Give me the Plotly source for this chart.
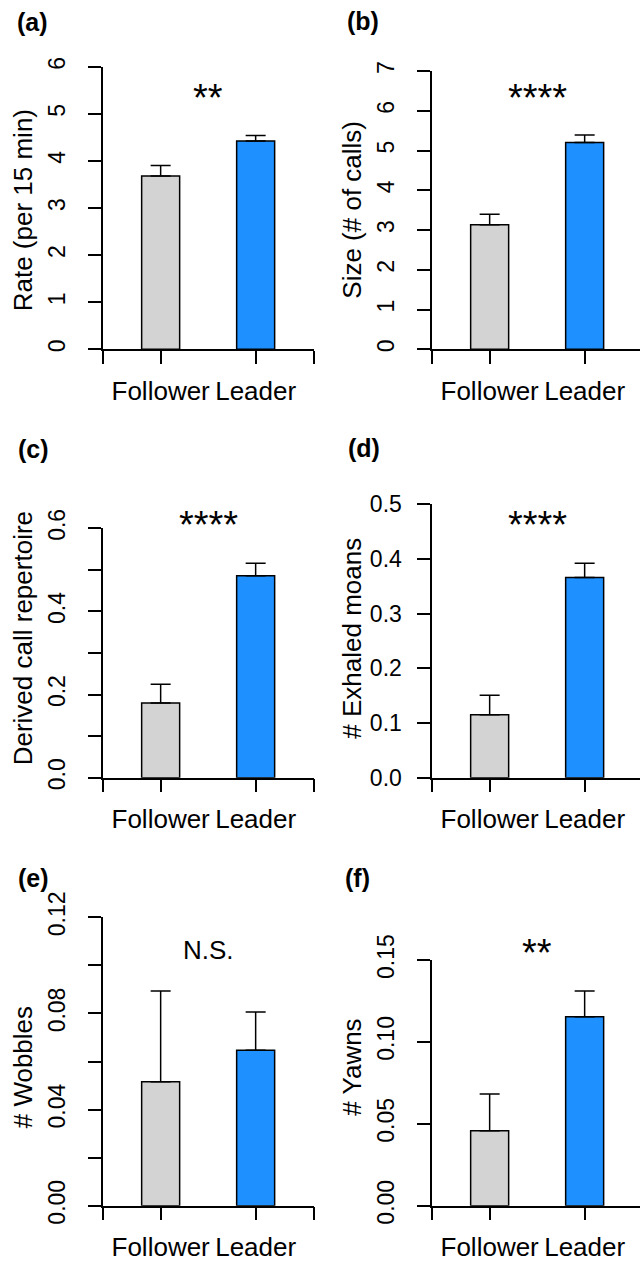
import plotly.graph_objects as go

W, H = 640, 1262

categories = ["Follower", "Leader"]
panel_labels = ["(a)", "(b)", "(c)", "(d)", "(e)", "(f)"]
y_titles = ["Rate (per 15 min)", "Size (# of calls)", "Derived call repertoire",
            "# Exhaled moans", "# Wobbles", "# Yawns"]
signif = ["**", "****", "****", "****", "N.S.", "**"]

rate_mean = [3.68, 4.42]
rate_se = [0.22, 0.12]
size_mean = [3.13, 5.20]
size_se = [0.27, 0.19]
derived_mean = [0.180, 0.486]
derived_se = [0.045, 0.030]
moans_mean = [0.115, 0.366]
moans_se = [0.036, 0.026]
wobbles_mean = [0.0516, 0.0647]
wobbles_se = [0.0377, 0.0159]
yawns_mean = [0.0458, 0.1154]
yawns_se = [0.0224, 0.0156]

# y axis ticks and labels per panel
y_ticks = [
    [0, 1, 2, 3, 4, 5, 6],
    [0, 1, 2, 3, 4, 5, 6, 7],
    [0, 0.1, 0.2, 0.3, 0.4, 0.5, 0.6],
    [0, 0.1, 0.2, 0.3, 0.4, 0.5],
    [0, 0.02, 0.04, 0.06, 0.08, 0.10, 0.12],
    [0, 0.05, 0.10, 0.15],
]
y_ticktext = [
    ["0", "1", "2", "3", "4", "5", "6"],
    ["0", "1", "2", "3", "4", "5", "6", "7"],
    ["0.0", "", "0.2", "", "0.4", "", "0.6"],
    ["0.0", "0.1", "0.2", "0.3", "0.4", "0.5"],
    ["0.00", "", "0.04", "", "0.08", "", "0.12"],
    ["0.00", "0.05", "0.10", "0.15"],
]
y_max = [6, 7, 0.6, 0.5, 0.12, 0.15]
rotated = [True, True, True, False, True, True]

means = [rate_mean, size_mean, derived_mean, moans_mean, wobbles_mean, yawns_mean]
ses = [rate_se, size_se, derived_se, moans_se, wobbles_se, yawns_se]

colors = ["#d3d3d3", "#1e90ff"]
x_pos = [1, 2]

# layout geometry (pixels)
axis_left = [102.7, 431.7, 102.7, 431.7, 102.7, 431.7]
y_bottom = [349.3, 349.3, 777.7, 777.7, 1205.7, 1205.7]
y_top = [66.7, 71.0, 528.3, 504.3, 917.3, 960.0]
px_per_unit = 95.0
xmin = 0.39
xmax_full = 2.61
label_pos = [(15, 21.7), (345, 21.0), (16, 449.3), (346, 448.3), (16, 878.3), (343, 878.3)]
title_pos = [(23.3, 210), (351.7, 210), (23.3, 638), (351.7, 638), (23.3, 1067), (351.7, 1067)]
sig_y = [93, 93, 520, 520, 950, 948.3]

FONT = "Liberation Sans, Arial, Helvetica, sans-serif"

fig = go.Figure()
annotations = []
layout = dict(
    width=W, height=H,
    margin=dict(l=0, r=0, t=0, b=0),
    paper_bgcolor="white", plot_bgcolor="white",
    showlegend=False,
    font=dict(family=FONT, color="black"),
)

for i in range(6):
    n = i + 1
    xa = "x" if n == 1 else f"x{n}"
    ya = "y" if n == 1 else f"y{n}"
    fig.add_trace(go.Bar(
        x=x_pos, y=means[i], width=0.4, xaxis=xa, yaxis=ya,
        marker=dict(color=colors, line=dict(color="black", width=1.5)),
        error_y=dict(type="data", symmetric=False, array=ses[i], arrayminus=[0, 0],
                     color="black", thickness=1.5, width=10),
        hoverinfo="skip",
    ))
    x0 = axis_left[i]
    x1 = min(x0 + (xmax_full - xmin) * px_per_unit, W)
    xmax = xmin + (x1 - x0) / px_per_unit
    xdom = [x0 / W, x1 / W]
    ydom = [(H - y_bottom[i]) / H, (H - y_top[i]) / H]
    xkey = "xaxis" if n == 1 else f"xaxis{n}"
    ykey = "yaxis" if n == 1 else f"yaxis{n}"
    layout[xkey] = dict(
        domain=xdom, range=[xmin, xmax], anchor=ya,
        showline=True, linecolor="black", linewidth=1.5,
        showgrid=False, zeroline=False,
        tickmode="array", tickvals=[xmin, 1, 2, xmax_full],
        ticktext=["", categories[0], categories[1], ""],
        ticks="outside", ticklen=12.5, tickwidth=1.5, tickcolor="black",
        tickfont=dict(size=26, family=FONT, color="black"),
        ticklabelstandoff=5, automargin=False, fixedrange=True,
    )
    layout[ykey] = dict(
        domain=ydom, range=[0, y_max[i]], anchor=xa,
        showline=True, linecolor="black", linewidth=1.5,
        showgrid=False, zeroline=False,
        tickmode="array", tickvals=y_ticks[i], ticktext=y_ticktext[i],
        ticks="outside", ticklen=12.5, tickwidth=1.5, tickcolor="black",
        tickfont=dict(size=23, family=FONT, color="black"),
        tickangle=-90 if rotated[i] else 0,
        ticklabelstandoff=14 if rotated[i] else 11,
        automargin=False, fixedrange=True,
    )
    lx, ly = label_pos[i]
    annotations.append(dict(
        text=f"<b>{panel_labels[i]}</b>", xref="paper", yref="paper",
        x=lx / W, y=(H - ly) / H, xanchor="left", yanchor="middle",
        showarrow=False, font=dict(size=25, family=FONT, color="black"),
    ))
    tx, ty = title_pos[i]
    annotations.append(dict(
        text=y_titles[i], xref="paper", yref="paper",
        x=tx / W, y=(H - ty) / H, xanchor="center", yanchor="middle",
        textangle=-90, showarrow=False, font=dict(size=26, family=FONT, color="black"),
    ))
    is_star = signif[i] != "N.S."
    sy = sig_y[i] + (5 if is_star else 0)
    annotations.append(dict(
        text=signif[i], xref=xa, yref="paper",
        x=1.5, y=(H - sy) / H, xanchor="center", yanchor="middle",
        showarrow=False,
        font=dict(size=38 if is_star else 26, family=FONT, color="black"),
    ))

layout["annotations"] = annotations
fig.update_layout(**layout)
fig.write_html("out.html")
